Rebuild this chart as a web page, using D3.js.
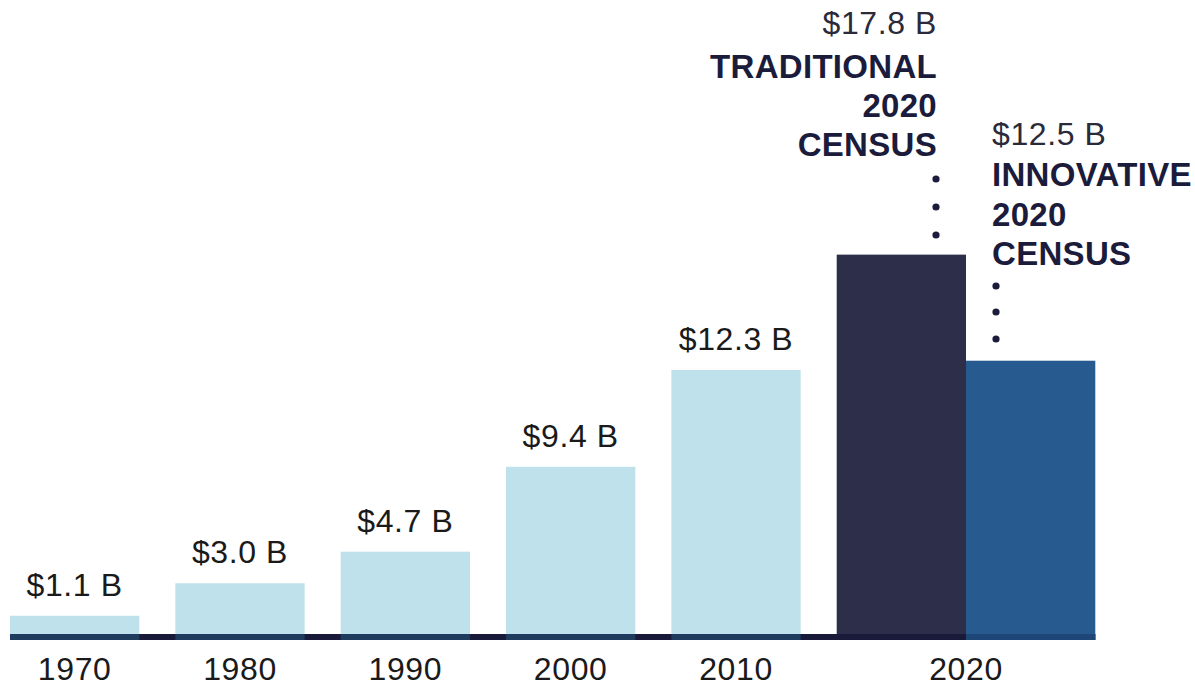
<!DOCTYPE html>
<html>
<head>
<meta charset="utf-8">
<script src="https://cdn.jsdelivr.net/npm/d3@7"></script>
<style>
  html, body { margin: 0; padding: 0; background: #ffffff; }
  text { font-family: "Liberation Sans", Arial, Helvetica, sans-serif; }
</style>
</head>
<body>
<div id="canvas"></div>
<script>
"use strict";

/* ---------- data ---------- */
let years = ["1970", "1980", "1990", "2000", "2010", "2020"];
// bar heights in $ billions, as drawn
let costs = [1.12, 2.62, 4.08, 8.0, 12.47, 17.8];
let valueLabels = ["$1.1 B", "$3.0 B", "$4.7 B", "$9.4 B", "$12.3 B", "$17.8 B"];
// second 2020 bar
let innovativeCost = 12.9;
let innovativeLabel = "$12.5 B";
let traditionalTitle = ["TRADITIONAL", "2020", "CENSUS"];
let innovativeTitle = ["INNOVATIVE", "2020", "CENSUS"];

/* ---------- layout ---------- */
let svgWidth = 1195;
let svgHeight = 687;
let baseY = 640;

let svg = d3.select("#canvas")
    .append("svg")
    .attr("width", svgWidth)
    .attr("height", svgHeight);

let xScale = d3.scaleBand()
    .domain(years)
    .range([10, 966])
    .paddingInner(0.218)
    .paddingOuter(0);

let yScale = d3.scaleLinear()
    .domain([0, 20])
    .range([baseY, baseY - 433]);

let bw = xScale.bandwidth();
let lightBlue = "#bee1ec";
let darkNavy = "#2d2e4a";
let midBlue = "#275a8e";
let textDark = "#1b1b3b";

/* ---------- bars ---------- */
svg.selectAll("rect.bar")
    .data(years)
    .join("rect")
    .attr("class", "bar")
    .attr("x", d => xScale(d))
    .attr("y", (d, i) => yScale(costs[i]))
    .attr("width", bw)
    .attr("height", (d, i) => baseY - yScale(costs[i]))
    .attr("fill", (d, i) => d === "2020" ? darkNavy : lightBlue);

let x2020 = xScale("2020");

svg.append("rect")
    .attr("x", x2020 + bw)
    .attr("y", yScale(innovativeCost))
    .attr("width", bw)
    .attr("height", baseY - yScale(innovativeCost))
    .attr("fill", midBlue);

/* baseline */
svg.append("rect")
    .attr("x", 10)
    .attr("y", baseY - 6)
    .attr("width", x2020 + 2 * bw - 10)
    .attr("height", 6)
    .attr("fill", "#191a3a");

years.forEach(function(y) {
    if (y === "2020") return;
    svg.append("rect")
        .attr("x", xScale(y))
        .attr("y", baseY - 6)
        .attr("width", bw)
        .attr("height", 6)
        .attr("fill", "#1f3c5e");
});

svg.append("rect")
    .attr("x", x2020 + bw)
    .attr("y", baseY - 6)
    .attr("width", bw)
    .attr("height", 6)
    .attr("fill", "#1e4677");

/* ---------- value labels (1970-2010) ---------- */
svg.selectAll("text.value")
    .data(years.slice(0, 5))
    .join("text")
    .attr("class", "value")
    .attr("x", d => xScale(d) + bw / 2)
    .attr("y", (d, i) => yScale(costs[i]) - 20)
    .attr("text-anchor", "middle")
    .attr("font-size", 32)
    .attr("letter-spacing", 0.6)
    .attr("fill", "#1a1a1a")
    .text((d, i) => valueLabels[i]);

/* ---------- year labels ---------- */
svg.selectAll("text.year")
    .data(years)
    .join("text")
    .attr("class", "year")
    .attr("x", d => d === "2020" ? x2020 + bw : xScale(d) + bw / 2)
    .attr("y", 680)
    .attr("text-anchor", "middle")
    .attr("font-size", 32)
    .attr("letter-spacing", 0.6)
    .attr("fill", "#1a1a1a")
    .text(d => d);

/* ---------- 2020 annotations ---------- */
let tradX = x2020 + bw - 29;
svg.append("text")
    .attr("x", tradX)
    .attr("y", 34)
    .attr("text-anchor", "end")
    .attr("font-size", 32)
    .attr("letter-spacing", 0.6)
    .attr("fill", "#2a2a3a")
    .text(valueLabels[5]);

traditionalTitle.forEach(function(line, i) {
    svg.append("text")
        .attr("x", tradX)
        .attr("y", 78 + i * 39)
        .attr("text-anchor", "end")
        .attr("font-size", 33)
        .attr("letter-spacing", 0.3)
        .attr("font-weight", "bold")
        .attr("fill", textDark)
        .text(line);
});

[179, 207, 235].forEach(function(cy) {
    svg.append("circle")
        .attr("cx", tradX - 1)
        .attr("cy", cy)
        .attr("r", 3.6)
        .attr("fill", textDark);
});

let innoX = x2020 + bw + 26;
svg.append("text")
    .attr("x", innoX)
    .attr("y", 145)
    .attr("font-size", 32)
    .attr("letter-spacing", 0.6)
    .attr("fill", "#2a2a3a")
    .text(innovativeLabel);

innovativeTitle.forEach(function(line, i) {
    svg.append("text")
        .attr("x", innoX)
        .attr("y", 186 + i * 39.5)
        .attr("font-size", 33)
        .attr("letter-spacing", 0.3)
        .attr("font-weight", "bold")
        .attr("fill", textDark)
        .text(line);
});

[286, 312, 339].forEach(function(cy) {
    svg.append("circle")
        .attr("cx", innoX + 4)
        .attr("cy", cy)
        .attr("r", 3.6)
        .attr("fill", textDark);
});
</script>
</body>
</html>
